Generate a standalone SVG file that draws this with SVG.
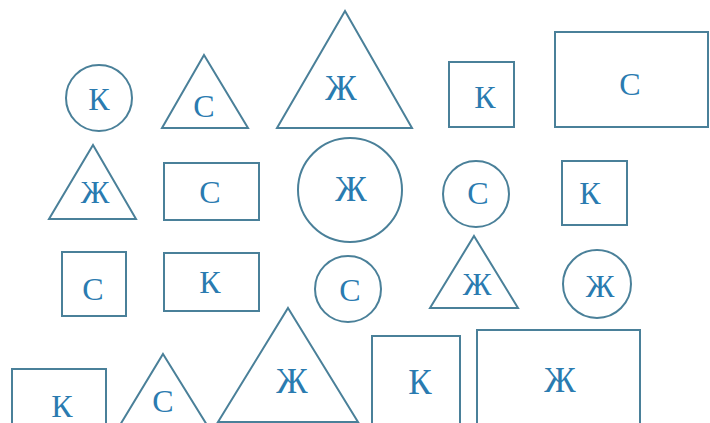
<svg xmlns="http://www.w3.org/2000/svg" width="710" height="423" viewBox="0 0 710 423">
<style>
.s{fill:none;stroke:#4a8099;stroke-width:2}
.t{font-family:"Liberation Serif","DejaVu Serif",serif;font-size:32px;fill:#2a7bb0;text-anchor:middle}
.b{font-size:35px}
</style>
<rect width="710" height="423" fill="#ffffff"/>
<g id="r1">
<g id="n1"><circle class="s" cx="99" cy="98" r="33"/><text class="t" x="99" y="110">К</text></g>
<g id="n2"><polygon class="s" points="204,55 248,128 162,128"/><text class="t" x="204" y="117">С</text></g>
<g id="n3"><polygon class="s" points="345,11 412,128 277,128"/><text class="t b" x="341" y="100">Ж</text></g>
<g id="n4"><rect class="s" x="449" y="62" width="65" height="65"/><text class="t" x="485" y="108">К</text></g>
<g id="n5"><rect class="s" x="555" y="32" width="153" height="95"/><text class="t" x="630" y="95">С</text></g>
</g>
<g id="r2">
<g id="n6"><polygon class="s" points="93,145 136,219 49,219"/><text class="t" x="95" y="203">Ж</text></g>
<g id="n7"><rect class="s" x="164" y="163" width="95" height="57"/><text class="t" x="210" y="203">С</text></g>
<g id="n8"><circle class="s" cx="350" cy="190" r="52"/><text class="t b" x="351" y="201">Ж</text></g>
<g id="n9"><circle class="s" cx="476" cy="194" r="33"/><text class="t" x="478" y="204">С</text></g>
<g id="n10"><rect class="s" x="562" y="161" width="65" height="64"/><text class="t" x="590" y="204">К</text></g>
</g>
<g id="r3">
<g id="n11"><rect class="s" x="62" y="252" width="64" height="64"/><text class="t" x="93" y="300">С</text></g>
<g id="n12"><rect class="s" x="164" y="253" width="95" height="58"/><text class="t" x="210" y="293">К</text></g>
<g id="n13"><circle class="s" cx="348" cy="289" r="33"/><text class="t" x="350" y="301">С</text></g>
<g id="n14"><polygon class="s" points="474,236 518,308 430,308"/><text class="t" x="477" y="295">Ж</text></g>
<g id="n15"><circle class="s" cx="597" cy="284" r="34"/><text class="t" x="600" y="297">Ж</text></g>
</g>
<g id="r4">
<g id="n16"><rect class="s" x="12" y="369" width="94" height="70"/><text class="t" x="62" y="417">К</text></g>
<g id="n17"><polygon class="s" points="163,354 207,425 120,425"/><text class="t" x="163" y="412">С</text></g>
<g id="n18"><polygon class="s" points="288,308 358,422 218,422"/><text class="t b" x="292" y="393">Ж</text></g>
<g id="n19"><rect class="s" x="372" y="336" width="88" height="100"/><text class="t b" x="420" y="394">К</text></g>
<g id="n20"><rect class="s" x="477" y="330" width="163" height="110"/><text class="t b" x="560" y="392">Ж</text></g>
</g>
<g id="connectors"/>
</svg>
